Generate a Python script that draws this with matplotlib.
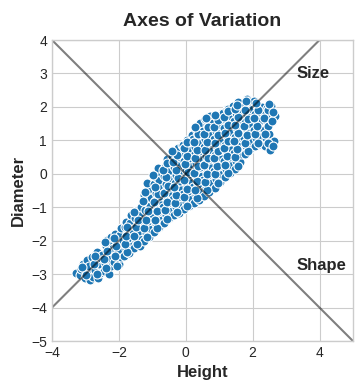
import matplotlib.pyplot as plt

# standardized height / diameter values
height = [
    -3.28, -3.17, -3.12,
    -3.02, -3.06, -2.97,
    -2.86, -2.94, -2.83, -2.89,
    -2.76, -2.70, -2.79, -2.67,
    -2.62, -2.55, -2.60, -2.52, -2.64,
    -2.45, -2.40, -2.49, -2.38, -2.36,
    -2.30, -2.25, -2.33, -2.21, -2.28, -2.24,
    -2.14, -2.10, -2.17, -2.06, -2.12,
    -1.99, -1.95, -2.02, -1.92, -1.98, -1.94,
    -1.84, -1.79, -1.87, -1.76, -1.83, -1.78,
    -1.69, -1.64, -1.72, -1.61, -1.67, -1.63,
    -1.54, -1.49, -1.57, -1.46, -1.52, -1.48,
    -1.38, -1.34, -1.41, -1.31, -1.37, -1.33,
    -1.24, -1.19, -1.27, -1.16, -1.22, -1.18, -1.26,
    -1.09, -1.04, -1.12, -1.01, -1.07, -1.03, -1.11, -1.15,
    -0.94, -0.89, -0.97, -0.86, -0.92, -0.88, -0.96, -0.90,
    -0.79, -0.74, -0.82, -0.71, -0.77, -0.73, -0.81, -0.76, -0.83,
    -0.64, -0.59, -0.67, -0.56, -0.62, -0.58, -0.66, -0.61, -0.57,
    -0.49, -0.44, -0.52, -0.41, -0.47, -0.43, -0.51, -0.46, -0.42,
    -0.34, -0.29, -0.37, -0.26, -0.32, -0.28, -0.36, -0.31, -0.27,
    -0.19, -0.14, -0.22, -0.11, -0.17, -0.13, -0.21, -0.16, -0.24, -0.12,
    -0.04, 0.01, -0.07, 0.04, -0.02, 0.02, -0.06, -0.01, -0.08, 0.03,
    0.11, 0.16, 0.08, 0.19, 0.13, 0.17, 0.09, 0.14, 0.07, 0.18,
    0.26, 0.31, 0.23, 0.34, 0.28, 0.32, 0.24, 0.29, 0.22, 0.33,
    0.41, 0.46, 0.38, 0.49, 0.43, 0.47, 0.39, 0.44, 0.37, 0.48, 0.42,
    0.56, 0.61, 0.53, 0.64, 0.58, 0.62, 0.54, 0.59, 0.52, 0.63, 0.57,
    0.71, 0.76, 0.68, 0.79, 0.73, 0.77, 0.69, 0.74, 0.67, 0.78, 0.72,
    0.86, 0.91, 0.83, 0.94, 0.88, 0.92, 0.84, 0.89, 0.82, 0.93,
    1.01, 1.06, 0.98, 1.09, 1.03, 1.07, 0.99, 1.04, 0.97, 1.08,
    1.16, 1.21, 1.13, 1.24, 1.18, 1.22, 1.14, 1.19, 1.12, 1.23,
    1.31, 1.36, 1.28, 1.39, 1.33, 1.37, 1.29, 1.34, 1.27,
    1.46, 1.51, 1.43, 1.54, 1.48, 1.52, 1.44, 1.49, 1.42,
    1.61, 1.66, 1.58, 1.69, 1.63, 1.67, 1.59, 1.64, 1.57,
    1.76, 1.81, 1.73, 1.84, 1.78, 1.82, 1.74, 1.83,
    1.91, 1.96, 1.88, 1.99, 1.93, 1.97, 1.89,
    2.06, 2.11, 2.03, 2.14, 2.08, 2.12, 2.04,
    2.21, 2.26, 2.18, 2.29, 2.23, 2.27,
    2.36, 2.41, 2.33, 2.44, 2.38, 2.42,
    2.51, 2.56, 2.48, 2.45, 2.53, 2.55,
    2.64, 2.66,
    # second pass
    -3.09, -2.99,
    -2.74, -2.66, -2.71,
    -2.37, -2.43, -2.35, -2.42,
    -2.05, -2.13, -2.08, -2.15,
    -1.75, -1.83, -1.80, -1.77,
    -1.45, -1.55, -1.50, -1.43, -1.56,
    -1.17, -1.25, -1.20, -1.14, -1.29, -1.21,
    -0.85, -0.93, -0.87, -0.95, -0.84, -0.92, -0.98,
    -0.55, -0.63, -0.57, -0.65, -0.54, -0.60, -0.69, -0.55,
    -0.25, -0.33, -0.28, -0.35, -0.24, -0.30, -0.38, -0.27, -0.40,
    0.05, -0.04, 0.03, -0.05, 0.06, -0.03, 0.04, -0.06, 0.05,
    0.35, 0.27, 0.34, 0.25, 0.36, 0.27, 0.35, 0.26, 0.36, 0.28,
    0.65, 0.57, 0.64, 0.55, 0.66, 0.57, 0.65, 0.55, 0.66, 0.60,
    0.95, 0.87, 0.94, 0.85, 0.96, 0.87, 0.95, 0.85, 0.96, 0.88,
    1.25, 1.17, 1.24, 1.15, 1.26, 1.17, 1.25, 1.15, 1.26,
    1.55, 1.47, 1.54, 1.45, 1.56, 1.47, 1.55, 1.46, 1.53,
    1.85, 1.77, 1.84, 1.75, 1.86, 1.77, 1.80,
    2.15, 2.07, 2.14, 2.05, 2.16, 2.10,
    2.45, 2.37, 2.47, 2.35, 2.50,
    2.60, 2.57, 2.62,
]
diameter = [
    -2.97, -3.04, -2.86,
    -3.11, -2.70, -2.90,
    -3.19, -2.58, -2.99, -2.77,
    -3.08, -2.87, -2.49, -2.38,
    -3.13, -2.96, -2.70, -2.51, -2.33,
    -2.90, -2.66, -2.42, -2.17, -1.99,
    -2.99, -2.76, -2.53, -2.31, -2.07, -1.88,
    -2.64, -2.44, -2.22, -2.01, -1.79,
    -2.71, -2.50, -2.29, -2.06, -1.83, -1.63,
    -2.45, -2.25, -2.02, -1.81, -1.58, -1.44,
    -2.36, -2.12, -1.91, -1.68, -1.47, -1.24,
    -2.21, -2.00, -1.77, -1.55, -1.33, -1.10,
    -2.16, -1.92, -1.70, -1.47, -1.23, -0.98,
    -2.00, -1.78, -1.55, -1.33, -1.09, -0.85, -0.62,
    -1.88, -1.64, -1.41, -1.19, -0.95, -0.71, -0.46, -0.28,
    -1.73, -1.50, -1.27, -1.04, -0.81, -0.56, -0.32, -0.11,
    -1.58, -1.36, -1.13, -0.90, -0.66, -0.42, -0.19, 0.05, 0.17,
    -1.46, -1.23, -1.00, -0.77, -0.53, -0.30, -0.06, 0.19, 0.44,
    -1.31, -1.10, -0.87, -0.64, -0.40, -0.17, 0.07, 0.31, 0.53,
    -1.22, -0.99, -0.76, -0.53, -0.29, -0.05, 0.20, 0.42, 0.66,
    -1.16, -0.93, -0.70, -0.46, -0.22, 0.02, 0.27, 0.51, 0.76, 0.86,
    -1.06, -0.83, -0.59, -0.36, -0.12, 0.12, 0.37, 0.61, 0.86, 1.02,
    -0.97, -0.73, -0.50, -0.26, -0.02, 0.22, 0.47, 0.71, 0.95, 1.17,
    -0.87, -0.63, -0.39, -0.16, 0.08, 0.33, 0.57, 0.81, 1.05, 1.28,
    -0.78, -0.54, -0.30, -0.06, 0.19, 0.43, 0.67, 0.92, 1.16, 1.37, 1.52,
    -0.66, -0.42, -0.18, 0.06, 0.30, 0.54, 0.79, 1.03, 1.27, 1.49, 1.63,
    -0.53, -0.29, -0.05, 0.19, 0.43, 0.68, 0.92, 1.16, 1.40, 1.60, 1.73,
    -0.41, -0.17, 0.07, 0.31, 0.55, 0.80, 1.04, 1.28, 1.52, 1.70,
    -0.24, 0.00, 0.24, 0.48, 0.72, 0.96, 1.21, 1.45, 1.68, 1.83,
    -0.09, 0.15, 0.39, 0.63, 0.87, 1.12, 1.36, 1.60, 1.82, 1.93,
    0.03, 0.27, 0.51, 0.75, 0.99, 1.24, 1.48, 1.72, 1.94,
    0.14, 0.38, 0.62, 0.86, 1.10, 1.35, 1.59, 1.83, 2.03,
    0.36, 0.60, 0.84, 1.08, 1.32, 1.57, 1.81, 2.05, 2.14,
    0.58, 0.82, 1.06, 1.30, 1.54, 1.79, 2.03, 2.24,
    0.73, 0.97, 1.21, 1.45, 1.69, 1.94, 2.17,
    0.82, 1.06, 1.30, 1.54, 1.78, 2.02, 2.18,
    0.88, 1.12, 1.36, 1.60, 1.84, 2.01,
    0.83, 1.07, 1.31, 1.55, 1.79, 1.98,
    0.72, 0.96, 1.20, 1.44, 1.68, 2.04,
    0.97, 1.72,
    # second pass
    -2.80, -3.02,
    -2.71, -3.00, -2.45,
    -2.82, -2.55, -2.30, -2.05,
    -2.77, -2.47, -2.16, -1.93,
    -2.33, -2.11, -1.86, -1.59,
    -2.10, -1.85, -1.60, -1.38, -1.15,
    -1.90, -1.63, -1.38, -1.12, -0.80, -0.55,
    -1.62, -1.37, -1.10, -0.85, -0.60, -0.38, -0.05,
    -1.35, -1.08, -0.83, -0.57, -0.36, -0.10, 0.12, 0.32,
    -1.15, -0.88, -0.62, -0.38, -0.12, 0.12, 0.35, 0.55, 0.68,
    -0.95, -0.70, -0.45, -0.20, 0.05, 0.28, 0.52, 0.76, 0.96,
    -0.72, -0.47, -0.22, 0.02, 0.24, 0.48, 0.70, 0.95, 1.18, 1.40,
    -0.48, -0.25, 0.00, 0.25, 0.47, 0.70, 0.95, 1.18, 1.40, 1.66,
    -0.28, -0.02, 0.22, 0.46, 0.68, 0.92, 1.16, 1.40, 1.60, 1.76,
    0.02, 0.27, 0.52, 0.76, 0.98, 1.23, 1.46, 1.70, 1.88,
    0.24, 0.50, 0.74, 0.98, 1.22, 1.46, 1.70, 1.94, 2.06,
    0.68, 0.93, 1.17, 1.42, 1.65, 1.90, 2.18,
    0.93, 1.18, 1.44, 1.68, 1.92, 2.12,
    0.92, 1.20, 1.90, 1.66, 2.08,
    0.84, 1.58, 1.86,
]

axis_labels = ["Size", "Shape"]
axis_slopes = [1, -1]
label_pos = [(3.3, 3.0), (3.3, -2.75)]

plt.style.use("seaborn-v0_8-whitegrid")
plt.rcParams["font.family"] = ["Liberation Sans", "DejaVu Sans"]
plt.rc("axes", labelweight="bold", labelsize=12, titleweight="bold", titlesize=14)

fig, ax = plt.subplots(figsize=(3.62, 3.9), dpi=100)
fig.subplots_adjust(left=0.1436, right=0.975, top=0.8974, bottom=0.1256)

ax.scatter(height, diameter, s=42, color="#1f77b4", edgecolor="white", linewidth=0.8)

for slope in axis_slopes:
    ax.axline((0, 0), slope=slope, color="black", alpha=0.5, linewidth=1.5)

for text, (tx, ty) in zip(axis_labels, label_pos):
    ax.text(tx, ty, text, fontsize=12, fontweight="bold", color=".15", va="center")

ax.set_xlim(-4, 5)
ax.set_ylim(-5, 4)
ax.set_xticks([-4, -2, 0, 2, 4])
ax.set_yticks(range(-5, 5))
ax.set_xlabel("Height")
ax.set_ylabel("Diameter")
ax.set_title("Axes of Variation", pad=10)

fig.savefig("out.png")
